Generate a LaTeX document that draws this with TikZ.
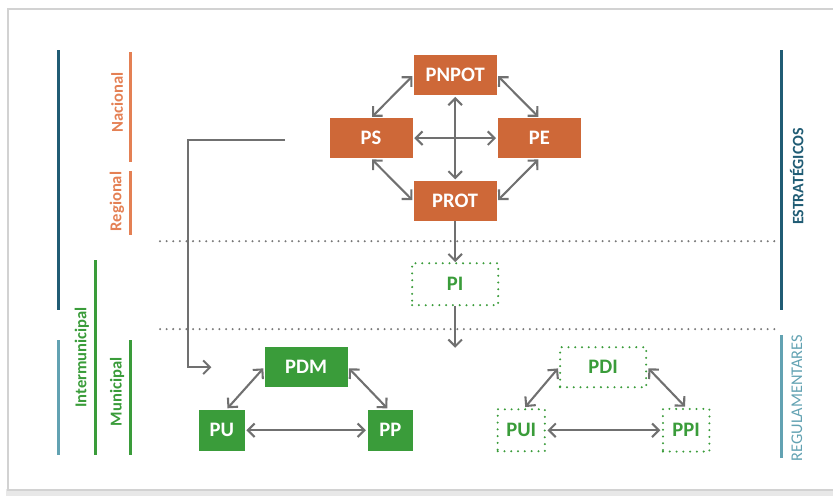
\documentclass[tikz,border=0pt]{standalone}
\usepackage{fontspec}
\setmainfont{Carlito}
\usetikzlibrary{arrows.meta, positioning, calc}
\definecolor{orangeBoxBg}{RGB}{206,104,56}
\definecolor{orangeLabel}{RGB}{228,128,84}
\definecolor{greenBoxBg}{RGB}{58,156,58}
\definecolor{tealDark}{RGB}{32,92,116}
\definecolor{tealLight}{RGB}{98,162,178}
\definecolor{arrowGray}{RGB}{112,112,112}
\definecolor{sepGray}{RGB}{120,120,120}
\tikzstyle{arrow} = [line width=0.55mm, draw=arrowGray, line join=miter, -{Straight Barb[length=1.8mm, width=3.6mm]}]
\tikzstyle{biarrow} = [arrow, {Straight Barb[length=1.8mm, width=3.6mm]}-{Straight Barb[length=1.8mm, width=3.6mm]}, shorten <=0.4mm, shorten >=0.4mm]
\tikzstyle{basic} = [rectangle, minimum width=22mm, minimum height=10.6mm, inner sep=0pt, text centered, font=\bfseries\fontsize{15.5}{15.5}\selectfont]
\tikzstyle{narrow} = [minimum width=12mm, minimum height=10.9mm]
\tikzstyle{orangestyle} = [fill=orangeBoxBg, text=white]
\tikzstyle{greenstyle} = [fill=greenBoxBg, text=white]
\tikzstyle{dotstyle} = [draw=greenBoxBg, line width=0.6mm, line cap=round, dash pattern=on 0pt off 1.8mm, text=greenBoxBg]
\tikzstyle{sep} = [line width=0.6mm, draw=sepGray, line cap=round, dash pattern=on 0pt off 1.75mm]
\tikzstyle{bar} = [line width=0.8mm]
\tikzstyle{side} = [rotate=90, inner sep=0pt, font=\bfseries\fontsize{12.5}{12.5}\selectfont]

\begin{document}
\begin{tikzpicture}

\useasboundingbox (0,0) rectangle (220.7mm,-131.4mm);
% frame
\fill [gray!18] (1.6mm,-129.6mm) rectangle (220.7mm,-131.4mm);
\draw [gray!35, line width=0.6mm] (2.2mm,-2.4mm) rectangle (222mm,-129.9mm);

% strategic plans
\node (PNPOT) [basic, orangestyle] at (120.6mm,-19.9mm) {PNPOT};
\node (PS) [basic, orangestyle, xshift=-22.3mm, yshift=-16.7mm] at(PNPOT) {PS};
\node (PE) [basic, orangestyle, xshift=22.3mm, yshift=-16.7mm] at(PNPOT) {PE};
\node (PROT) [basic, orangestyle, yshift=-33.4mm] at(PNPOT) {PROT};
\node (PI) [basic, dotstyle, minimum width=22.8mm, minimum height=11.1mm, yshift=-22mm] at(PROT) {PI};

% regulatory plans
\node (PDM) [basic, greenstyle] at (81.1mm,-97.3mm) {PDM};
\node (PU) [basic, narrow, greenstyle, xshift=-22.3mm, yshift=-16.7mm] at(PDM) {PU};
\node (PP) [basic, narrow, greenstyle, xshift=22.3mm, yshift=-16.7mm] at(PDM) {PP};
\node (PDI) [basic, dotstyle, minimum width=22.8mm, xshift=78.7mm] at(PDM) {PDI};
\node (PUI) [basic, narrow, dotstyle, minimum width=12.5mm, minimum height=11.1mm, xshift=-21.7mm, yshift=-16.7mm] at(PDI) {PUI};
\node (PPI) [basic, narrow, dotstyle, minimum width=12.3mm, minimum height=11.3mm, xshift=22mm, yshift=-16.7mm] at(PDI) {PPI};

\draw [biarrow] (PNPOT.west) -- (PS.north);
\draw [biarrow] (PNPOT.east) -- (PE.north);
\draw [biarrow] (PS.south) -- (PROT.west);
\draw [biarrow] (PE.south) -- (PROT.east);
\draw [biarrow] (PS.east) -- (PE.west);
\draw [biarrow] (PNPOT.south) -- (PROT.north);
\draw [arrow] (PROT.south) -- (PI.north);
\coordinate (piEnd) at ($(PI.south) + (0mm, -11mm)$);
\draw [arrow] (PI.south) -- (piEnd);

\coordinate (elbowStart) at ($(PS.west) + (-11.7mm, -0.5mm)$);
\coordinate (elbowEnd) at ($(PDM.west) + (-14mm, 0)$);
\draw [arrow] (elbowStart) -| ($(elbowEnd) + (-6.2mm, 0)$) -- (elbowEnd);

\draw [biarrow] (PDM.west) -- ([xshift=1.2mm]PU.north);
\draw [biarrow] (PDM.east) -- ([xshift=-0.5mm]PP.north);
\draw [biarrow] (PU.east) -- (PP.west);
\draw [biarrow] (PDI.west) -- ([xshift=0.8mm]PUI.north);
\draw [biarrow] (PDI.east) -- (PPI.north);
\draw [biarrow] (PUI.east) -- (PPI.west);

% level separators
\coordinate (sepTopW) at (42.4mm,-63.9mm);
\coordinate (sepTopE) at (206.2mm,-63.9mm);
\coordinate (sepLowW) at (42.4mm,-87.2mm);
\coordinate (sepLowE) at (206.2mm,-87.2mm);
\draw [sep] (sepTopW) -- (sepTopE);
\draw [sep] (sepLowW) -- (sepLowE);

% left scale
\draw [bar, tealDark] (15.4mm,-13.3mm) -- (15.4mm,-82.2mm);
\draw [bar, tealLight] (15.4mm,-90.1mm) -- (15.4mm,-120.6mm);
\draw [bar, orangeLabel] (34.5mm,-13.8mm) -- (34.5mm,-42.9mm);
\draw [bar, orangeLabel] (34.5mm,-45.3mm) -- (34.5mm,-62.3mm);
\draw [bar, greenBoxBg] (25.4mm,-68.9mm) -- (25.4mm,-120.6mm);
\draw [bar, greenBoxBg] (34.5mm,-90.1mm) -- (34.5mm,-120.6mm);
\node (nacional) [side, text=orangeLabel] at (31mm,-27.2mm) {Nacional};
\node (regional) [side, text=orangeLabel] at (31mm,-53.4mm) {Regional};
\node (intermun) [side, text=greenBoxBg] at (21.7mm,-94.7mm) {Intermunicipal};
\node (municipal) [side, text=greenBoxBg] at (31mm,-103.8mm) {Municipal};

% right scale
\draw [bar, tealDark] (207mm,-13.3mm) -- (207mm,-82.2mm);
\draw [bar, tealLight] (207mm,-88.8mm) -- (207mm,-121.4mm);
\node (estrat) [side, text=tealDark, font=\bfseries\fontsize{12}{12}\selectfont] at (211.1mm,-46.8mm) {ESTRATÉGICOS};
\node (regul) [side, text=tealLight, font=\fontsize{12.3}{12.3}\selectfont] at (211.1mm,-105.5mm) {REGULAMENTARES};

\end{tikzpicture}
\end{document}
